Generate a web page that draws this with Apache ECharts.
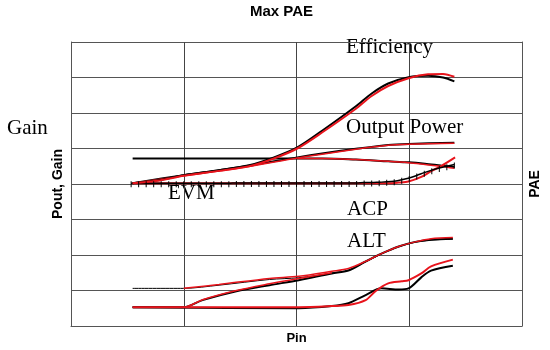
<!DOCTYPE html>
<html>
<head>
<meta charset="utf-8">
<script src="https://cdn.jsdelivr.net/npm/echarts@6/dist/echarts.min.js"></script>
<style>html,body{margin:0;padding:0;background:#fff}#c{width:550px;height:350px}</style>
</head>
<body>
<div id="c"></div>
<script>
// ---- data (Pin in arbitrary units 0..60, outputs in arbitrary units 0..80) ----
const xTicks = [0, 15, 30, 45, 60];
const yTicks = [0, 10, 20, 30, 40, 50, 60, 70, 80];

const effPinK = [8.2, 11.8, 15, 19.7, 23.7, 27, 30.1, 33.4, 37.9, 40, 42.2, 44.9, 47.5, 49.5, 51];
const effK    = [40.2, 41.1, 42.5, 43.9, 45.3, 47.5, 50.3, 55.0, 61.9, 65.5, 68.3, 70.1, 70.5, 70.0, 68.9];
const effPinR = [8.2, 11.8, 15, 19.7, 23.7, 27, 30.1, 33.4, 37.9, 40, 42.2, 44.9, 47.5, 49.5, 51];
const effR    = [40.2, 41.0, 42.3, 43.7, 45.0, 47.2, 50.0, 54.5, 61.2, 64.8, 67.6, 69.8, 70.9, 71.0, 70.2];

const poutPin = [8.2, 15, 22.4, 30.1, 33.4, 37.9, 42.2, 44.9, 51];
const poutK   = [40.2, 42.5, 44.7, 47.5, 48.6, 49.9, 51.0, 51.3, 51.6];
const poutR   = [40.2, 42.3, 44.5, 47.3, 48.4, 49.8, 50.9, 51.2, 51.5];

const gainPinK = [8.2, 30.1, 33.4, 37.9, 42.2, 44.9, 47.1, 49.2, 51];
const gainK    = [47.2, 47.2, 47.2, 46.9, 46.4, 46.1, 45.7, 45.2, 44.8];
const gainPinR = [30.1, 33.4, 37.9, 42.2, 44.9, 47.1, 49.2, 51];
const gainR    = [47.2, 47.2, 46.9, 46.4, 46.0, 45.5, 45.0, 44.4];

const evmPinK = [8, 9, 10, 11, 12, 13, 14, 15, 16, 17, 18, 19, 20, 21, 22, 23, 24, 25, 26, 27, 28, 29,
                 30, 31, 32, 33, 34, 35, 36, 37, 38, 39, 40, 41, 42, 43, 44, 45, 46, 47, 48, 49, 50, 51];
const evmK    = [40.2, 40.2, 40.2, 40.2, 40.2, 40.2, 40.2, 40.2, 40.2, 40.2, 40.2, 40.2, 40.2, 40.2, 40.3,
                 40.3, 40.3, 40.3, 40.3, 40.3, 40.3, 40.3, 40.3, 40.3, 40.3, 40.3, 40.3, 40.3, 40.3, 40.3,
                 40.3, 40.4, 40.4, 40.5, 40.6, 40.8, 41.2, 41.7, 42.4, 43.2, 43.9, 44.5, 45.0, 45.5];
const evmPinR = [8.2, 30, 42.2, 43.6, 44.9, 46.6, 47.9, 49.2, 51.1];
const evmR    = [40.2, 40.2, 40.2, 40.4, 40.7, 42.0, 43.6, 45.0, 47.5];

const acpThinPin = [8.2, 15, 19.7, 26.4, 30.3, 34.7, 36.9, 39.2, 41.3, 43.6, 45.8, 47.9, 50.8];
const acpThin    = [10.6, 10.6, 11.5, 13.1, 13.6, 14.9, 15.8, 18.0, 20.3, 22.3, 23.6, 24.2, 24.5];
const acpPinK = [8.2, 15, 17.5, 22.0, 26.4, 30.3, 34.7, 36.9, 39.2, 41.3, 43.6, 45.8, 47.9, 50.8];
const acpK    = [5.3, 5.3, 7.3, 9.8, 11.5, 12.9, 14.8, 15.6, 18.2, 20.4, 22.4, 23.7, 24.3, 24.6];
const acpPinR = [15, 19.7, 26.4, 30.3, 34.7, 36.9, 39.2, 41.3, 43.6, 45.8, 47.9, 50.8];
const acpR    = [10.6, 11.7, 13.4, 14.0, 15.4, 16.2, 18.2, 20.4, 22.4, 23.7, 24.6, 24.9];
const acpPinR2 = [8.2, 15, 17.5, 22.0, 26.4, 30.3, 34.7];
const acpR2    = [5.3, 5.3, 7.4, 10.0, 11.9, 13.4, 15.0];

const altPinK = [8.2, 30.3, 34.7, 36.9, 39.2, 41.3, 43.6, 44.9, 46.6, 47.9, 50.8];
const altK    = [5.3, 5.0, 5.6, 6.4, 8.7, 10.6, 10.3, 10.6, 13.7, 15.6, 17.0];
const altPinR = [8.2, 30.3, 34.7, 36.9, 39.2, 40.5, 42.2, 44.0, 44.9, 46.6, 47.9, 50.8];
const altR    = [5.3, 5.3, 5.6, 5.9, 7.3, 9.8, 12.0, 12.6, 12.9, 14.8, 16.8, 18.7];

// ---- chart ----
const RED = '#e8141c', BLACK = '#000';
const pairs = (xs, ys) => xs.map((x, i) => [x, ys[i]]);
function line(xs, ys, color, width, extra) {
  return Object.assign({
    type: 'line', data: pairs(xs, ys), smooth: 0.3, showSymbol: false,
    lineStyle: { color: color, width: width }, itemStyle: { color: color },
    animation: false, silent: true
  }, extra || {});
}

const chart = echarts.init(document.getElementById('c'), null, { renderer: 'canvas' });
const serif = '"Liberation Serif","Times New Roman",serif';
const sans = '"Liberation Sans",Arial,sans-serif';
const LBL = '21px ' + serif;
chart.setOption({
  animation: false,
  grid: { left: 71, right: 26, top: 42, bottom: 22 },
  xAxis: {
    type: 'value', min: xTicks[0], max: xTicks[xTicks.length - 1], interval: xTicks[1] - xTicks[0],
    name: 'Pin', nameLocation: 'middle', nameGap: 6,
    nameTextStyle: { fontFamily: sans, fontWeight: 'bold', fontSize: 13, color: '#000', verticalAlign: 'top' },
    axisLine: { show: true, lineStyle: { color: '#555', width: 1 } },
    axisTick: { show: false }, axisLabel: { show: false },
    splitLine: { show: true, lineStyle: { color: '#444', width: 1 } }
  },
  yAxis: [{
    type: 'value', min: yTicks[0], max: yTicks[yTicks.length - 1], interval: yTicks[1] - yTicks[0],
    name: 'Pout, Gain', nameLocation: 'middle', nameGap: 6,
    nameTextStyle: { fontFamily: sans, fontWeight: 'bold', fontSize: 14, color: '#000' },
    axisLine: { show: true, lineStyle: { color: '#555', width: 1 } },
    axisTick: { show: false }, axisLabel: { show: false },
    splitLine: { show: true, lineStyle: { color: '#555', width: 1 } }
  }, {
    type: 'value', min: yTicks[0], max: yTicks[yTicks.length - 1], interval: yTicks[1] - yTicks[0],
    position: 'right',
    name: 'PAE', nameLocation: 'middle', nameGap: 6, nameRotate: 90,
    nameTextStyle: { fontFamily: sans, fontWeight: 'bold', fontSize: 14, color: '#000' },
    axisLine: { show: true, lineStyle: { color: '#555', width: 1 } },
    axisTick: { show: false }, axisLabel: { show: false }, splitLine: { show: false }
  }],
  graphic: [
    { type: 'text', x: 281.5, y: 12, style: { text: 'Max PAE', font: 'bold 15px ' + sans, fill: '#000', align: 'center', verticalAlign: 'middle' } },
    { type: 'text', x: 346, y: 47, style: { text: 'Efficiency', font: LBL, fill: '#000', verticalAlign: 'middle' } },
    { type: 'text', x: 346, y: 127, style: { text: 'Output Power', font: LBL, fill: '#000', verticalAlign: 'middle' } },
    { type: 'text', x: 7, y: 128, style: { text: 'Gain', font: LBL, fill: '#000', verticalAlign: 'middle' } },
    { type: 'text', x: 168, y: 193, style: { text: 'EVM', font: LBL, fill: '#000', verticalAlign: 'middle' } },
    { type: 'text', x: 347, y: 209, style: { text: 'ACP', font: LBL, fill: '#000', verticalAlign: 'middle' } },
    { type: 'text', x: 347, y: 241, style: { text: 'ALT', font: LBL, fill: '#000', verticalAlign: 'middle' } }
  ],
  series: [
    line(acpThinPin, acpThin, BLACK, 1),
    line(acpPinK, acpK, BLACK, 2),
    line(acpPinR2, acpR2, RED, 1.5),
    line(acpPinR, acpR, RED, 1.5),
    line(altPinK, altK, BLACK, 2),
    line(altPinR, altR, RED, 2),
    line(gainPinK, gainK, BLACK, 2),
    line(gainPinR, gainR, RED, 1.5),
    line(evmPinR, evmR, RED, 2),
    line(evmPinK, evmK, BLACK, 1.5, { showSymbol: true, symbol: 'rect', symbolSize: [1, 6], symbolOffset: [0, 1] }),
    line(poutPin, poutK, BLACK, 2),
    line(poutPin, poutR, RED, 1.5),
    line(effPinK, effK, BLACK, 2),
    line(effPinR, effR, RED, 2)
  ]
});
</script>
</body>
</html>
